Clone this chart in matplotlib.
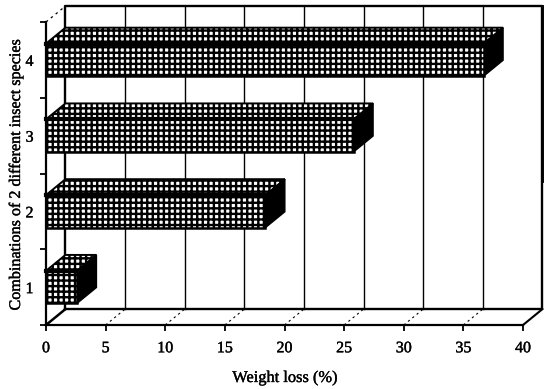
import matplotlib
matplotlib.use("Agg")
import matplotlib.pyplot as plt
from matplotlib.patches import Polygon
import matplotlib.patheffects as pe

plt.rcParams['font.family'] = ['Liberation Serif']
plt.rcParams['hatch.linewidth'] = 1.7
plt.rcParams['hatch.color'] = 'black'

categories = [1, 2, 3, 4]
weight_loss = [2.6, 18.4, 25.8, 36.7]
x_ticks = [0, 5, 10, 15, 20, 25, 30, 35, 40]
y_labels = ["1", "2", "3", "4"]
y_minor = [0.5, 1.5, 2.5, 3.5, 4.5]

# depth of the fake 3d box, in data units
dx = 1.63
dy = 0.21
bar_h = 0.43

fig = plt.figure(figsize=(5.52, 3.89), dpi=100)
ax = fig.add_axes([46 / 552, 1 - 325 / 389, 477 / 552, 303 / 389])
ax.set_xlim(0, 40)
ax.set_ylim(0.5, 4.5)
ax.patch.set_alpha(0)

y0 = 0.5
y1 = 4.5

# back wall + floor
ax.plot([dx, dx, 40 + dx, 40 + dx, dx], [y0 + dy, y1 + dy, y1 + dy, y0 + dy, y0 + dy],
        color='black', lw=1.7, clip_on=False, zorder=1)
ax.plot([40 + dx, 40 + dx], [y0 + 1.9, y1 + dy], color='black', lw=2.1, clip_on=False, zorder=1)
ax.plot([0, dx], [y0, y0 + dy], color='black', lw=1.8, clip_on=False, zorder=1)
ax.plot([40, 40 + dx], [y0, y0 + dy], color='black', lw=1.5, clip_on=False, zorder=1)
ax.plot([0, dx], [y1, y1 + dy], color='black', lw=0.9, ls=(0, (2, 3)), clip_on=False, zorder=1)

for v in x_ticks[1:-1]:
    ax.plot([v + dx, v + dx], [y0 + dy, y1 + dy], color='black', lw=1.0, clip_on=False, zorder=1)
    ax.plot([v, v + dx], [y0, y0 + dy], color='black', lw=0.8, ls=(0, (2, 3)), clip_on=False, zorder=1)

# bars
for c, val in zip(categories, weight_loss):
    b = c - bar_h / 2
    t = c + bar_h / 2
    top = Polygon([(0, t), (val, t), (val + dx, t + dy), (dx, t + dy)], closed=True,
                  facecolor='white', edgecolor='black', hatch='+++', lw=1.4, clip_on=False, zorder=3)
    side = Polygon([(val, b), (val, t), (val + dx, t + dy), (val + dx, b + dy)], closed=True,
                   facecolor='black', edgecolor='black', lw=1.0, clip_on=False, zorder=4)
    ax.add_patch(top)
    ax.add_patch(side)
    ax.barh(c, val, height=bar_h, color='white', edgecolor='black', hatch='+++',
            lw=1.8, clip_on=False, zorder=5)
    # dark band along the front top edge
    ax.plot([0, val], [t, t], color='black', lw=3.0, clip_on=False, zorder=6)

for s in ['top', 'right']:
    ax.spines[s].set_visible(False)
for s in ['left', 'bottom']:
    ax.spines[s].set_linewidth(1.6)
    ax.spines[s].set_zorder(7)

ax.set_xticks(x_ticks)
ax.set_yticks(categories)
ax.set_yticklabels(y_labels)
ax.set_yticks(y_minor, minor=True)
ax.tick_params(axis='x', length=4, width=1.3, labelsize=11.5, pad=7)
ax.tick_params(axis='y', which='major', length=0, labelsize=11.5, pad=9)
ax.tick_params(axis='y', which='minor', length=4, width=1.3)

heavy = [pe.withStroke(linewidth=0.25, foreground='black')]
for lab in ax.get_xticklabels() + ax.get_yticklabels():
    lab.set_path_effects(heavy)

fig.text(285 / 552, 1 - 378 / 389, "Weight loss (%)", ha='center', va='center',
         fontsize=11.8, path_effects=heavy)
fig.text(16 / 552, 1 - 175 / 389, "Combinations of 2 different insect species", rotation=90,
         ha='center', va='center', fontsize=11.6, path_effects=heavy)

fig.savefig("out.png", dpi=100)
